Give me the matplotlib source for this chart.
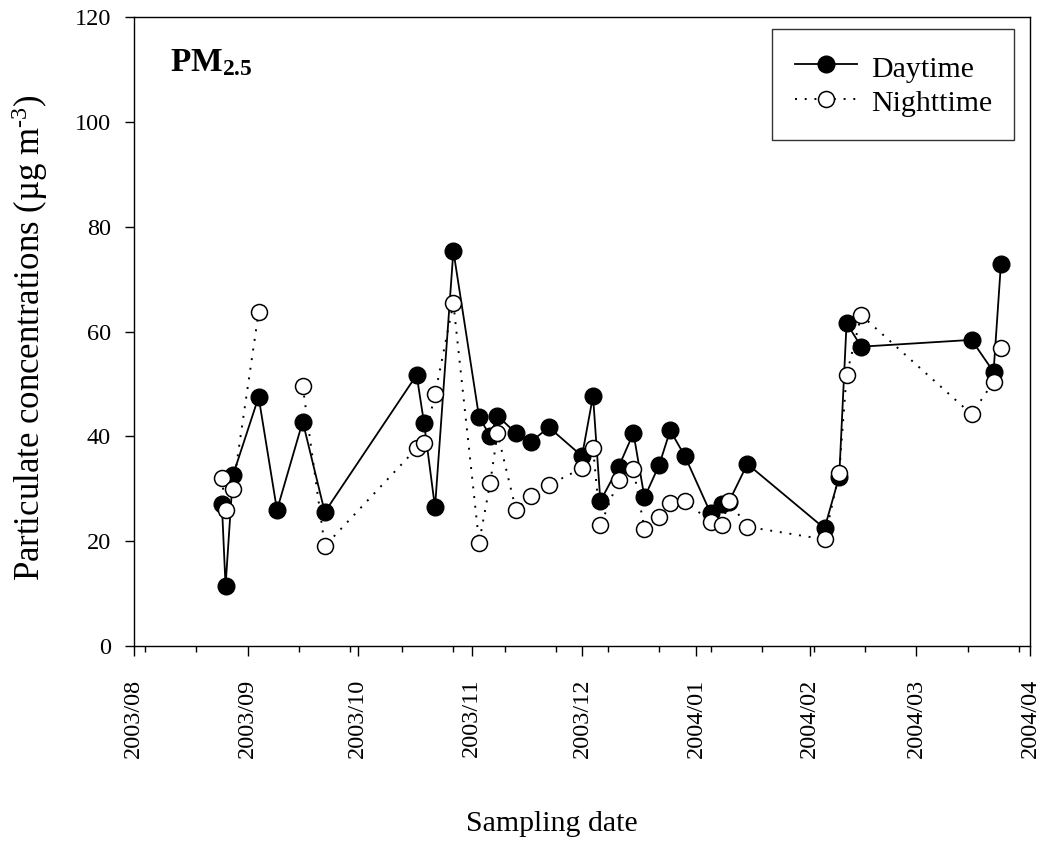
import numpy as np
import pandas as pd
import matplotlib
matplotlib.use("Agg")
import matplotlib.pyplot as plt
import matplotlib.dates as mdates
from matplotlib.ticker import FixedLocator

plt.rcParams['font.family'] = ['Liberation Serif', 'DejaVu Serif']
plt.rcParams['mathtext.fontset'] = 'custom'
plt.rcParams['mathtext.rm'] = 'Liberation Serif'
plt.rcParams['mathtext.it'] = 'Liberation Serif:italic'
plt.rcParams['mathtext.bf'] = 'Liberation Serif:bold'

# sampling dates and PM2.5 concentrations (ug/m3)
dates = pd.to_datetime([
    '2003-08-25', '2003-08-26', '2003-08-28', '2003-09-04', '2003-09-09',
    '2003-09-16', '2003-09-22', '2003-10-17', '2003-10-19', '2003-10-22',
    '2003-10-27', '2003-11-03', '2003-11-06', '2003-11-08', '2003-11-13',
    '2003-11-17', '2003-11-22', '2003-12-01', '2003-12-04', '2003-12-06',
    '2003-12-11', '2003-12-15', '2003-12-18', '2003-12-22', '2003-12-25',
    '2003-12-29', '2004-01-05', '2004-01-08', '2004-01-10', '2004-01-15',
    '2004-02-05', '2004-02-09', '2004-02-11', '2004-02-15', '2004-03-16',
    '2004-03-22', '2004-03-24',
])
daytime = [
    27.0, 11.4, 32.5, 47.5, 25.9,
    42.8, 25.5, 51.7, 42.6, 26.4,
    75.4, 43.6, 40.1, 43.9, 40.6,
    38.9, 41.7, 36.2, 47.7, 27.6,
    34.2, 40.6, 28.3, 34.5, 41.1,
    36.2, 25.3, 27.0, 27.5, 34.7,
    22.4, 32.3, 61.6, 57.1, 58.4,
    52.3, 72.9,
]
nighttime = [
    32.0, 25.9, 29.9, 63.7, np.nan,
    49.6, 19.0, 37.7, 38.8, 48.0,
    65.4, 19.7, 31.0, 40.6, 26.0,
    28.6, 30.7, 33.9, 37.8, 23.0,
    31.7, 33.7, 22.3, 24.6, 27.2,
    27.6, 23.7, 23.0, 27.6, 22.7,
    20.3, 33.0, 51.7, 63.1, 44.2,
    50.4, 56.8,
]

fig = plt.figure(figsize=(10.46, 8.5), dpi=100)
ax = fig.add_axes([0.1278, 0.2404, 0.8572, 0.7392])

ax.plot(dates, daytime, '-o', color='black', lw=1.3, ms=12,
        mfc='black', mec='black', label='Daytime', zorder=3)
ax.plot(dates, nighttime, linestyle=(0, (1, 4)), marker='o', color='black',
        lw=1.4, ms=11.5, mfc='white', mec='black', mew=1.1,
        label='Nighttime', zorder=4)

ax.set_xlim(pd.Timestamp('2003-08-01'), pd.Timestamp('2004-04-01'))
ax.set_ylim(0, 120)
ax.set_yticks(np.arange(0, 121, 20))

ax.xaxis.set_major_locator(mdates.MonthLocator())
ax.xaxis.set_major_formatter(mdates.DateFormatter('%Y/%m'))
minor = pd.date_range('2003-08-04', '2004-04-01', freq='14D')
ax.xaxis.set_minor_locator(FixedLocator(mdates.date2num(minor)))

ax.tick_params(axis='x', which='major', direction='out', length=7,
               width=1, labelsize=17.5, rotation=90, pad=17)
ax.tick_params(axis='x', which='minor', direction='out', length=4.3, width=1)
ax.tick_params(axis='y', which='major', direction='out', length=6.5,
               width=1, labelsize=17.5, pad=10)
for sp in ax.spines.values():
    sp.set_linewidth(1)

ax.set_xlabel('Sampling date', fontsize=21.5)
ax.xaxis.set_label_coords(0.4666, -0.263)
ax.set_ylabel('Particulate concentrations (µg m$^{\\text{-3}}$)', fontsize=25)
ax.yaxis.set_label_coords(-0.093, 0.49)

ax.text(0.04, 0.915, r'$\mathbf{PM_{2.5}}$', transform=ax.transAxes,
        fontsize=24, ha='left', va='baseline')

leg = ax.legend(loc='upper right', bbox_to_anchor=(0.982, 0.981),
                borderaxespad=0, fontsize=21.5, frameon=True, fancybox=False,
                edgecolor='black', handlelength=2.1, handleheight=1.2,
                handletextpad=0.45, labelspacing=0.1, numpoints=1,
                borderpad=0.75)
leg.get_frame().set_linewidth(1)

fig.savefig('out.png', dpi=100)
